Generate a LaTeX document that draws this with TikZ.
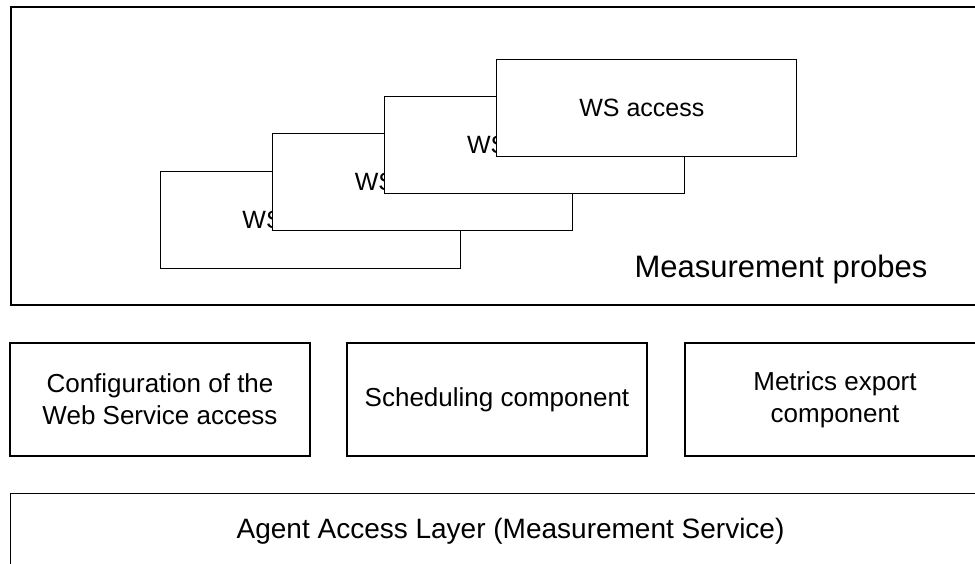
\documentclass[tikz,border=0pt]{standalone}
\usepackage{fontspec}
\setmainfont{Liberation Sans}
\begin{document}
\begin{tikzpicture}[x=1pt,y=-1pt,
  wsbox/.style={draw, fill=white, line width=0.9pt, minimum width=300pt, minimum height=97pt, inner sep=0pt, font=\fontsize{25}{30}\selectfont},
  compbox/.style={draw, line width=1.1pt, minimum width=300pt, minimum height=113pt, inner sep=0pt, align=center, font=\fontsize{26}{32}\selectfont}]
\useasboundingbox (0,0) rectangle (975,563);
\clip (0,0) rectangle (975,563);
% probes container
\node[draw, line width=2pt, anchor=north west, minimum width=980pt, minimum height=298pt] (probes) at (10,6) {};
\node[font=\fontsize{31}{36}\selectfont] (probeslbl) at (781,269) {Measurement probes};
% stacked WS access boxes, back to front
\foreach \i in {0,...,3}
  \node[wsbox] (ws\i) at (310+112.3*\i,219.5-37.3*\i) {\hspace*{-10pt}WS access};
% components
\node[compbox] (config) at (160,399.5) {Configuration of the\\Web Service access};
\node[compbox] (sched) at (497,399.5) {Scheduling component};
\node[compbox] (export) at (835,399.5) {Metrics export\\component};
% agent access layer
\node[draw, line width=1.1pt, anchor=north west, minimum width=1000pt, minimum height=76pt, inner sep=0pt, font=\fontsize{28}{34}\selectfont] (agent) at (10,493) {Agent Access Layer (Measurement Service)};
\end{tikzpicture}
\end{document}
